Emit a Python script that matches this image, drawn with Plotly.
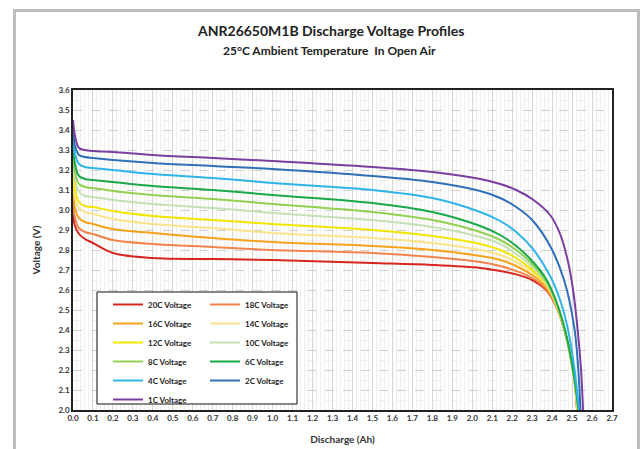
import plotly.graph_objects as go

# Shared x positions (Ah) for the plateau part of every curve
X_HEAD = [0, 0.01, 0.03, 0.06, 0.1, 0.2, 0.4, 0.7, 1.0, 1.5, 1.8, 2.04]

V_1C_HEAD = [3.45, 3.37, 3.31, 3.30, 3.295, 3.29, 3.275, 3.26, 3.245, 3.215, 3.19, 3.155]
X_1C_TAIL = [2.14, 2.22, 2.3, 2.39, 2.44, 2.48, 2.505, 2.53, 2.545, 2.555]
V_1C_TAIL = [3.13, 3.10, 3.055, 2.975, 2.88, 2.74, 2.60, 2.38, 2.20, 2.0]

V_2C_HEAD = [3.41, 3.32, 3.275, 3.265, 3.26, 3.25, 3.235, 3.22, 3.205, 3.17, 3.14, 3.095]
X_2C_TAIL = [2.14, 2.22, 2.3, 2.39, 2.46, 2.51, 2.53, 2.542]
V_2C_TAIL = [3.06, 3.015, 2.95, 2.82, 2.65, 2.42, 2.22, 2.0]

V_4C_HEAD = [3.37, 3.28, 3.23, 3.215, 3.21, 3.20, 3.18, 3.16, 3.135, 3.10, 3.06, 2.99]
X_4C_TAIL = [2.14, 2.22, 2.30, 2.39, 2.44, 2.48, 2.51, 2.535]
V_4C_TAIL = [2.945, 2.89, 2.81, 2.67, 2.55, 2.40, 2.22, 2.0]

V_6C_HEAD = [3.33, 3.23, 3.17, 3.155, 3.15, 3.14, 3.12, 3.10, 3.075, 3.035, 2.99, 2.92]
X_6C_TAIL = [2.14, 2.22, 2.3, 2.37, 2.42, 2.47, 2.51, 2.532]
V_6C_TAIL = [2.875, 2.82, 2.745, 2.655, 2.545, 2.38, 2.17, 2.0]

V_8C_HEAD = [3.29, 3.19, 3.13, 3.115, 3.11, 3.095, 3.075, 3.055, 3.03, 2.99, 2.95, 2.89]
X_8C_TAIL = [2.14, 2.22, 2.3, 2.37, 2.42, 2.47, 2.51, 2.53]
V_8C_TAIL = [2.85, 2.80, 2.73, 2.645, 2.54, 2.37, 2.16, 2.0]

V_10C_HEAD = [3.25, 3.15, 3.09, 3.07, 3.065, 3.05, 3.03, 3.01, 2.985, 2.95, 2.915, 2.865]
X_10C_TAIL = [2.14, 2.22, 2.3, 2.37, 2.42, 2.47, 2.51, 2.53]
V_10C_TAIL = [2.83, 2.78, 2.715, 2.635, 2.535, 2.37, 2.16, 2.0]

V_12C_HEAD = [3.20, 3.10, 3.04, 3.02, 3.015, 2.995, 2.97, 2.95, 2.93, 2.90, 2.87, 2.83]
X_12C_TAIL = [2.14, 2.22, 2.3, 2.37, 2.42, 2.47, 2.51, 2.528]
V_12C_TAIL = [2.80, 2.76, 2.70, 2.63, 2.53, 2.37, 2.16, 2.0]

V_14C_HEAD = [3.15, 3.06, 3.01, 2.99, 2.98, 2.955, 2.93, 2.91, 2.885, 2.86, 2.835, 2.80]
X_14C_TAIL = [2.14, 2.22, 2.3, 2.37, 2.42, 2.47, 2.51, 2.527]
V_14C_TAIL = [2.775, 2.74, 2.69, 2.625, 2.53, 2.37, 2.16, 2.0]

V_16C_HEAD = [3.10, 3.01, 2.96, 2.94, 2.93, 2.905, 2.885, 2.86, 2.84, 2.82, 2.80, 2.77]
X_16C_TAIL = [2.14, 2.22, 2.3, 2.37, 2.42, 2.47, 2.51, 2.526]
V_16C_TAIL = [2.75, 2.72, 2.675, 2.615, 2.525, 2.37, 2.16, 2.0]

V_18C_HEAD = [3.04, 2.96, 2.91, 2.89, 2.88, 2.85, 2.83, 2.815, 2.80, 2.785, 2.765, 2.74]
X_18C_TAIL = [2.14, 2.22, 2.3, 2.37, 2.42, 2.47, 2.51, 2.525]
V_18C_TAIL = [2.72, 2.695, 2.66, 2.605, 2.52, 2.37, 2.16, 2.0]

V_20C_HEAD = [2.98, 2.92, 2.88, 2.855, 2.835, 2.785, 2.76, 2.755, 2.75, 2.735, 2.725, 2.71]
X_20C_TAIL = [2.14, 2.22, 2.3, 2.37, 2.42, 2.47, 2.51, 2.525]
V_20C_TAIL = [2.695, 2.678, 2.65, 2.60, 2.52, 2.37, 2.17, 2.0]

SERIES_NAMES = ["20C Voltage", "18C Voltage", "16C Voltage", "14C Voltage",
                "12C Voltage", "10C Voltage", "8C Voltage", "6C Voltage",
                "4C Voltage", "2C Voltage", "1C Voltage"]
SERIES_COLORS = ["#d7261e", "#f0844c", "#f7a21b", "#fce38a", "#f2e600",
                 "#c5e0b3", "#92d050", "#19a84a", "#2fb4e9", "#2e6fb7", "#7a3ea0"]
SERIES_DATA = [
    (V_20C_HEAD, X_20C_TAIL, V_20C_TAIL),
    (V_18C_HEAD, X_18C_TAIL, V_18C_TAIL),
    (V_16C_HEAD, X_16C_TAIL, V_16C_TAIL),
    (V_14C_HEAD, X_14C_TAIL, V_14C_TAIL),
    (V_12C_HEAD, X_12C_TAIL, V_12C_TAIL),
    (V_10C_HEAD, X_10C_TAIL, V_10C_TAIL),
    (V_8C_HEAD, X_8C_TAIL, V_8C_TAIL),
    (V_6C_HEAD, X_6C_TAIL, V_6C_TAIL),
    (V_4C_HEAD, X_4C_TAIL, V_4C_TAIL),
    (V_2C_HEAD, X_2C_TAIL, V_2C_TAIL),
    (V_1C_HEAD, X_1C_TAIL, V_1C_TAIL),
]

TITLE = "ANR26650M1B Discharge Voltage Profiles"
SUBTITLE = "25°C Ambient Temperature  In Open Air"

FONT = "Lato"

fig = go.Figure()
for i, (name, color, (vh, xt, vt)) in enumerate(zip(SERIES_NAMES, SERIES_COLORS, SERIES_DATA)):
    fig.add_trace(go.Scatter(
        x=X_HEAD + xt, y=vh + vt, mode="lines", name=name,
        legend="legend" if i % 2 == 0 else "legend2",
        line=dict(color=color, width=2, shape="spline", smoothing=1.0),
    ))

axis_common = dict(
    showline=True, linecolor="#222222", linewidth=1.5, mirror=True,
    ticks="", tickfont=dict(family=FONT, size=8, color="#333333", weight="bold"),
    tickformat=".1f", zeroline=False,
)

fig.update_xaxes(
    range=[0, 2.7], dtick=0.1, tick0=0,
    showgrid=True, gridcolor="#d6d6d6", gridwidth=1,
    minor=dict(dtick=0.02, showgrid=True, gridcolor="#efefef", gridwidth=1),
    title=dict(text="<b>Discharge (Ah)</b>", font=dict(family=FONT, size=10, color="#333333"), standoff=14),
    **axis_common,
)
fig.update_yaxes(
    range=[2.0, 3.6], dtick=0.1, tick0=2.0,
    showgrid=True, gridcolor="#d0d0d0", gridwidth=1, griddash="dash",
    minor=dict(dtick=0.05, showgrid=True, gridcolor="#f0f0f0", gridwidth=1),
    title=dict(text="<b>Voltage (V)</b>", font=dict(family=FONT, size=10, color="#333333"), standoff=16),
    **axis_common,
)

legend_common = dict(
    orientation="v", yanchor="top", xanchor="left",
    bgcolor="rgba(0,0,0,0)", borderwidth=0,
    font=dict(family=FONT, size=8, color="#222222", weight="bold"),
    itemwidth=30, tracegroupgap=0,
)

# pixel -> paper helpers for the 539x320 plot area starting at (73, 90)
def px(x):
    return (x - 73) / 539.0

def py(y):
    return (410 - y) / 320.0

fig.update_layout(
    width=640, height=449,
    margin=dict(l=73, r=28, t=90, b=39, autoexpand=False),
    paper_bgcolor="white", plot_bgcolor="white",
    showlegend=True,
    legend=dict(x=px(108), y=py(290), **legend_common),
    legend2=dict(x=px(205), y=py(290), **legend_common),
    annotations=[
        dict(text="<b>" + TITLE + "</b>", xref="paper", yref="paper",
             x=px(330), y=py(30), xanchor="center", yanchor="middle", showarrow=False,
             font=dict(family=FONT, size=14, color="#222222")),
        dict(text="<b>" + SUBTITLE + "</b>", xref="paper", yref="paper",
             x=px(329), y=py(50), xanchor="center", yanchor="middle", showarrow=False,
             font=dict(family=FONT, size=12, color="#222222")),
    ],
    shapes=[
        # legend box
        dict(type="rect", xref="paper", yref="paper",
             x0=px(97), x1=px(297), y0=py(404), y1=py(292),
             line=dict(color="#111111", width=1), fillcolor="white", layer="above"),
        # outer frame
        dict(type="rect", xref="paper", yref="paper",
             x0=px(14.5), x1=px(638.5), y0=py(470), y1=py(10.5),
             line=dict(color="#bdbdbd", width=3), fillcolor="rgba(0,0,0,0)", layer="above"),
    ],
)

fig.write_html("out.html",
               config={"displayModeBar": False},
               post_script="document.body.style.margin='0px';document.body.style.overflow='hidden';")
